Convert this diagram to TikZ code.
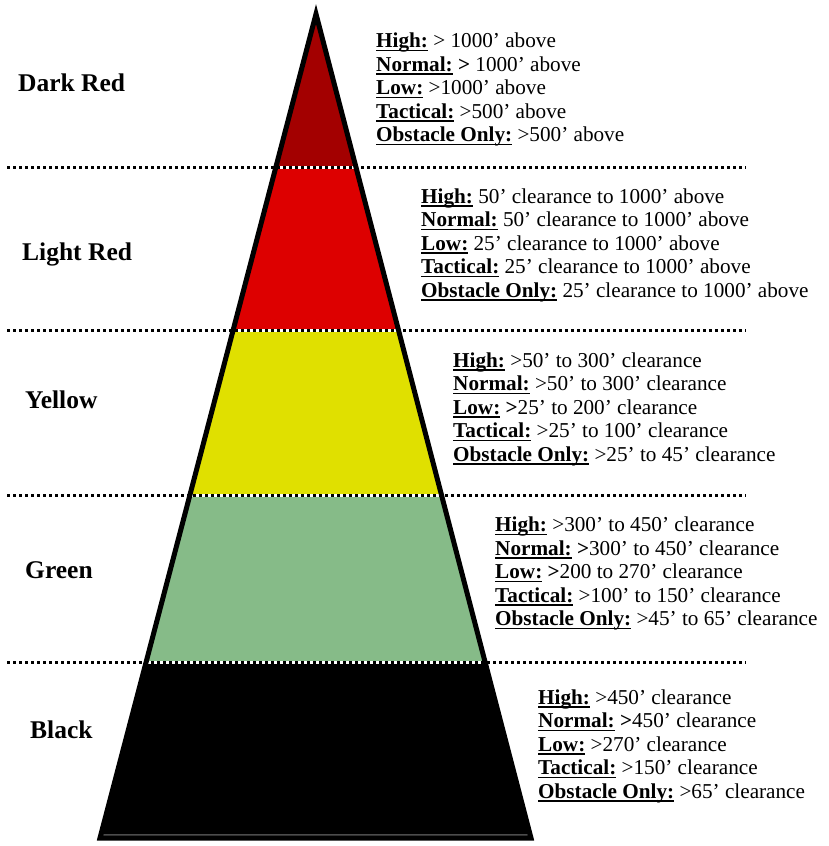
\documentclass[tikz,border=0pt]{standalone}
\usepackage{fontspec}
\setmainfont{Liberation Serif}
\definecolor{darkred}{HTML}{A30000}
\definecolor{lightred}{HTML}{DD0000}
\definecolor{bandyellow}{HTML}{E0E000}
\definecolor{bandgreen}{HTML}{86BB88}
\newsavebox\ulsave
\newcommand\ulbox[1]{\sbox\ulsave{#1}\rlap{\rule[-3.6pt]{\wd\ulsave}{1.6pt}}\usebox\ulsave}
\begin{document}
\begin{tikzpicture}[x=1pt,y=-1pt,
  lab/.style={anchor=base west,inner sep=0pt,font=\fontsize{25.5}{28}\selectfont\bfseries},
  txt/.style={anchor=base west,inner sep=0pt,font=\fontsize{21.2}{23}\selectfont},
  sepline/.style={line width=3pt,dash pattern=on 3pt off 3pt,black},
  gapline/.style={line width=3pt,white},
  outline/.style={line width=5pt,line join=miter,black}]
\useasboundingbox (0,0) rectangle (828,846);
\coordinate (apex) at (316,14);
\coordinate (bl) at (100,838);
\coordinate (br) at (531,838);
% bands
\begin{scope}
  \clip (apex) -- (br) -- (bl) -- cycle;
  \fill[darkred] (0,0) rectangle (828,167);
  \fill[lightred] (0,167) rectangle (828,330);
  \fill[bandyellow] (0,330) rectangle (828,495);
  \fill[bandgreen] (0,495) rectangle (828,662);
  \fill[black] (0,662) rectangle (828,846);
  \foreach \yy in {167,330,495,662} \draw[gapline] (0,\yy) -- (828,\yy);
  \draw[gray!60!black,line width=1.2pt] (0,835) -- (828,835);
\end{scope}
\draw[outline] (apex) -- (br) -- (bl) -- cycle;
% dotted separators
\foreach \yy [count=\i] in {167,330,495,662} {
  \coordinate (sL\i) at (7,\yy);
  \coordinate (sR\i) at (746,\yy);
  \draw[sepline] (sL\i) -- (sR\i);
}
% left labels
\node[lab] (l1) at (18,91.5) {Dark Red};
\node[lab] (l2) at (22,260.5) {Light Red};
\node[lab] (l3) at (25,408.5) {Yellow};
\node[lab] (l4) at (25,578.5) {Green};
\node[lab] (l5) at (30,738.5) {Black};
% right text blocks
\foreach \lb/\rest [count=\i] in {High:/{> 1000’ above},Normal:/{\textbf{>} 1000’ above},Low:/{>1000’ above},Tactical:/{>500’ above},Obstacle Only:/{>500’ above}}
  \node[txt] (a\i) at (376,{47.5+23.5*(\i-1)}) {\ulbox{\textbf{\lb}}\ \rest};
\foreach \lb/\rest [count=\i] in {High:/{50’ clearance to 1000’ above},Normal:/{50’ clearance to 1000’ above},Low:/{25’ clearance to 1000’ above},Tactical:/{25’ clearance to 1000’ above},Obstacle Only:/{25’ clearance to 1000’ above}}
  \node[txt] (b\i) at (421,{203+23.5*(\i-1)}) {\ulbox{\textbf{\lb}}\ \rest};
\foreach \lb/\rest [count=\i] in {High:/{>50’ to 300’ clearance},Normal:/{>50’ to 300’ clearance},Low:/{\textbf{>}25’ to 200’ clearance},Tactical:/{>25’ to 100’ clearance},Obstacle Only:/{>25’ to 45’ clearance}}
  \node[txt] (c\i) at (453,{367+23.5*(\i-1)}) {\ulbox{\textbf{\lb}}\ \rest};
\foreach \lb/\rest [count=\i] in {High:/{>300’ to 450’ clearance},Normal:/{\textbf{>}300’ to 450’ clearance},Low:/{\textbf{>}200 to 270’ clearance},Tactical:/{>100’ to 150’ clearance},Obstacle Only:/{>45’ to 65’ clearance}}
  \node[txt] (d\i) at (495,{531.5+23.5*(\i-1)}) {\ulbox{\textbf{\lb}}\ \rest};
\foreach \lb/\rest [count=\i] in {High:/{>450’ clearance},Normal:/{\textbf{>}450’ clearance},Low:/{>270’ clearance},Tactical:/{>150’ clearance},Obstacle Only:/{>65’ clearance}}
  \node[txt] (e\i) at (538,{704+23.5*(\i-1)}) {\ulbox{\textbf{\lb}}\ \rest};
\end{tikzpicture}
\end{document}
